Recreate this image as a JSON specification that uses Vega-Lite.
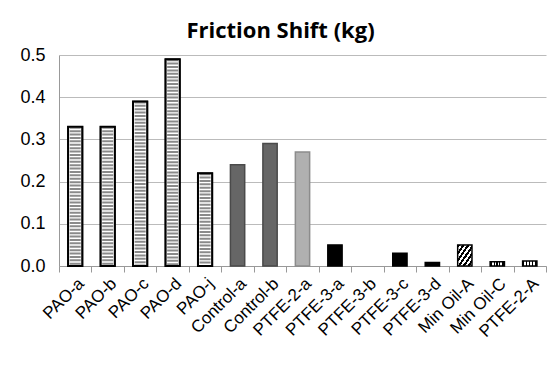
{
  "$schema": "https://vega.github.io/schema/vega-lite/v6.json",
  "width": 487,
  "height": 211,
  "autosize": "none",
  "padding": {"left": 59, "top": 55, "right": 14, "bottom": 111},
  "background": "white",
  "config": {"view": {"stroke": null}},
  "title": {"text": "Friction Shift (kg)", "font": "Open Sans", "fontSize": 22, "fontWeight": "bold", "color": "black", "anchor": "middle", "dx": -22, "offset": 3},
  "data": {"values": [
    {"name": "PAO-a", "value": 0.33, "group": "PAO"},
    {"name": "PAO-b", "value": 0.33, "group": "PAO"},
    {"name": "PAO-c", "value": 0.39, "group": "PAO"},
    {"name": "PAO-d", "value": 0.49, "group": "PAO"},
    {"name": "PAO-j", "value": 0.22, "group": "PAO"},
    {"name": "Control-a", "value": 0.24, "group": "Control"},
    {"name": "Control-b", "value": 0.29, "group": "Control"},
    {"name": "PTFE-2-a", "value": 0.27, "group": "PTFE2a"},
    {"name": "PTFE-3-a", "value": 0.05, "group": "PTFE3"},
    {"name": "PTFE-3-b", "value": null, "group": "PTFE3"},
    {"name": "PTFE-3-c", "value": 0.03, "group": "PTFE3"},
    {"name": "PTFE-3-d", "value": 0.008, "group": "PTFE3"},
    {"name": "Min Oil-A", "value": 0.05, "group": "MinA"},
    {"name": "Min Oil-C", "value": 0.01, "group": "Small"},
    {"name": "PTFE-2-A", "value": 0.012, "group": "Small"}
  ]},
  "encoding": {
    "x": {"field": "name", "type": "nominal", "sort": null,
      "scale": {"domain": ["PAO-a", "PAO-b", "PAO-c", "PAO-d", "PAO-j", "Control-a", "Control-b", "PTFE-2-a", "PTFE-3-a", "PTFE-3-b", "PTFE-3-c", "PTFE-3-d", "Min Oil-A", "Min Oil-C", "PTFE-2-A"], "paddingInner": 0, "paddingOuter": 0},
      "axis": {"title": null, "labelAngle": -45, "labelFontSize": 17, "labelFont": "Liberation Sans", "labelColor": "black", "domainColor": "#999999", "tickColor": "#999999", "tickSize": 6, "tickBand": "extent", "labelPadding": 3, "grid": false}},
    "y": {"field": "value", "type": "quantitative",
      "scale": {"domain": [0, 0.5], "nice": false},
      "axis": {"title": null, "values": [0, 0.1, 0.2, 0.3, 0.4, 0.5], "format": ".1f", "labelFontSize": 18, "labelFont": "Liberation Sans", "labelColor": "black", "gridColor": "#bbbbbb", "domainColor": "#999999", "ticks": false, "labelPadding": 14}}
  },
  "layer": [
    {
      "transform": [{"filter": "datum.group != 'MinA' && datum.group != 'Small'"}],
      "mark": {"type": "bar", "width": {"band": 0.44}, "strokeWidth": 1.5},
      "encoding": {
        "fill": {"field": "group", "type": "nominal", "scale": {"domain": ["PAO", "Control", "PTFE2a", "PTFE3"], "range": ["#ffffff", "#666666", "#b0b0b0", "#000000"]}, "legend": null},
        "stroke": {"field": "group", "type": "nominal", "scale": {"domain": ["PAO", "Control", "PTFE2a", "PTFE3"], "range": ["#000000", "#4a4a4a", "#8c8c8c", "#000000"]}, "legend": null}
      }
    },
    {
      "transform": [{"filter": "datum.group == 'PAO'"}],
      "mark": {"type": "rule", "strokeWidth": 11, "strokeDash": [2, 1.4], "color": "#8a8a8a", "strokeCap": "butt"},
      "encoding": {"y2": {"datum": 0}}
    },
    {
      "transform": [{"filter": "datum.group == 'PAO'"}],
      "mark": {"type": "bar", "width": {"band": 0.44}, "fillOpacity": 0, "stroke": "black", "strokeWidth": 2}
    },
    {
      "transform": [{"filter": "datum.group == 'MinA'"}],
      "mark": {"type": "bar", "width": {"band": 0.44}, "stroke": "black", "strokeWidth": 1.5,
        "fill": {"gradient": "linear", "x1": 0, "y1": 0, "x2": 1, "y2": 1, "stops": [
          {"offset": 0, "color": "#000000"}, {"offset": 0.0833, "color": "#000000"},
          {"offset": 0.0833, "color": "#ffffff"}, {"offset": 0.1667, "color": "#ffffff"},
          {"offset": 0.1667, "color": "#000000"}, {"offset": 0.25, "color": "#000000"},
          {"offset": 0.25, "color": "#ffffff"}, {"offset": 0.3333, "color": "#ffffff"},
          {"offset": 0.3333, "color": "#000000"}, {"offset": 0.4167, "color": "#000000"},
          {"offset": 0.4167, "color": "#ffffff"}, {"offset": 0.5, "color": "#ffffff"},
          {"offset": 0.5, "color": "#000000"}, {"offset": 0.5833, "color": "#000000"},
          {"offset": 0.5833, "color": "#ffffff"}, {"offset": 0.6667, "color": "#ffffff"},
          {"offset": 0.6667, "color": "#000000"}, {"offset": 0.75, "color": "#000000"},
          {"offset": 0.75, "color": "#ffffff"}, {"offset": 0.8333, "color": "#ffffff"},
          {"offset": 0.8333, "color": "#000000"}, {"offset": 0.9167, "color": "#000000"},
          {"offset": 0.9167, "color": "#ffffff"}, {"offset": 1, "color": "#ffffff"}
        ]}}
    },
    {
      "transform": [{"filter": "datum.group == 'Small'"}],
      "mark": {"type": "bar", "width": {"band": 0.44}, "stroke": "black", "strokeWidth": 1.5,
        "fill": {"gradient": "linear", "x1": 0, "y1": 0, "x2": 1, "y2": 0, "stops": [
          {"offset": 0, "color": "#000000"}, {"offset": 0.12, "color": "#000000"},
          {"offset": 0.12, "color": "#ffffff"}, {"offset": 0.24, "color": "#ffffff"},
          {"offset": 0.24, "color": "#000000"}, {"offset": 0.32, "color": "#000000"},
          {"offset": 0.32, "color": "#ffffff"}, {"offset": 0.44, "color": "#ffffff"},
          {"offset": 0.44, "color": "#000000"}, {"offset": 0.52, "color": "#000000"},
          {"offset": 0.52, "color": "#ffffff"}, {"offset": 0.64, "color": "#ffffff"},
          {"offset": 0.64, "color": "#000000"}, {"offset": 0.72, "color": "#000000"},
          {"offset": 0.72, "color": "#ffffff"}, {"offset": 0.84, "color": "#ffffff"},
          {"offset": 0.84, "color": "#000000"}, {"offset": 1, "color": "#000000"}
        ]}}
    }
  ]
}
